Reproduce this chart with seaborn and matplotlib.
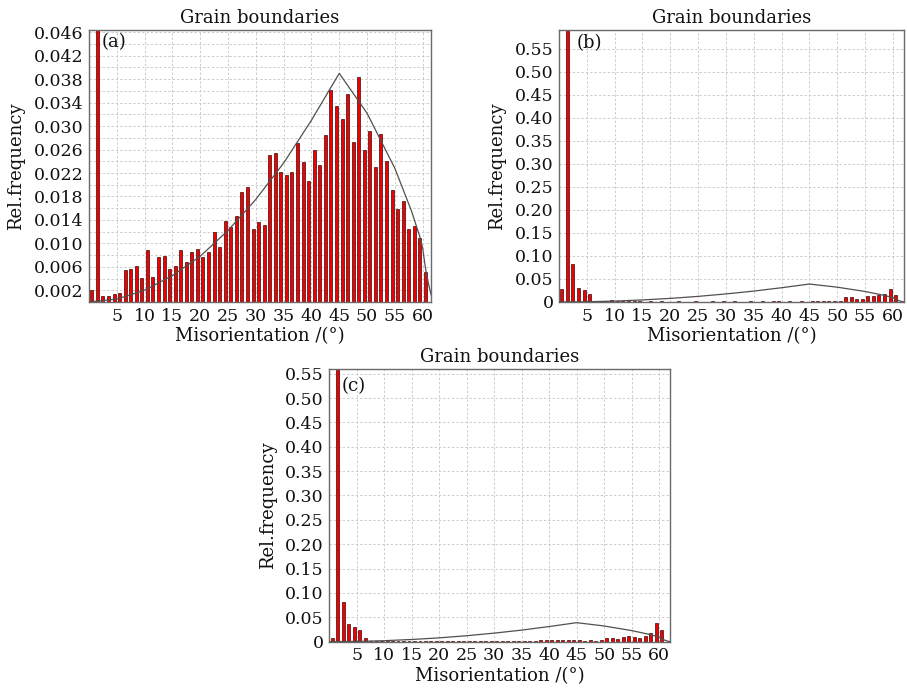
import numpy as np
import pandas as pd
import matplotlib
matplotlib.use("Agg")
import matplotlib.pyplot as plt
import seaborn as sns

# ---------------- data ----------------
# bin centres (1 degree bins)
bins_a = [d + 0.5 for d in range(61)]
freq_a = [0.0021, 0.0900, 0.0011, 0.0010, 0.0014, 0.0015, 0.0055, 0.0056, 0.0061, 0.0041,
          0.0089, 0.0043, 0.0076, 0.0078, 0.0056, 0.0061, 0.0089, 0.0068, 0.0086, 0.0090,
          0.0076, 0.0086, 0.0120, 0.0093, 0.0139, 0.0128, 0.0146, 0.0187, 0.0196, 0.0124,
          0.0136, 0.0131, 0.0250, 0.0254, 0.0222, 0.0216, 0.0222, 0.0271, 0.0239, 0.0206,
          0.0260, 0.0233, 0.0285, 0.0361, 0.0335, 0.0312, 0.0355, 0.0273, 0.0383, 0.0260,
          0.0292, 0.0231, 0.0287, 0.0240, 0.0191, 0.0159, 0.0173, 0.0124, 0.0129, 0.0110,
          0.0051]

freq_b = [0.029, 0.620, 0.082, 0.031, 0.026, 0.017, 0.003, 0.002, 0.002, 0.005,
          0.002, 0.002, 0.003, 0.0015, 0.0015, 0.001, 0.0015, 0.001, 0.0015, 0.001,
          0.001, 0.0015, 0.001, 0.001, 0.0015, 0.001, 0.001, 0.0015, 0.001, 0.0015,
          0.001, 0.0015, 0.001, 0.001, 0.0015, 0.001, 0.0015, 0.001, 0.0015, 0.0015,
          0.001, 0.0015, 0.001, 0.0015, 0.001, 0.0015, 0.002, 0.002, 0.0015, 0.0015,
          0.002, 0.010, 0.010, 0.006, 0.007, 0.012, 0.013, 0.0145, 0.017, 0.0275,
          0.0145]

freq_c = [0.008, 0.600, 0.082, 0.037, 0.030, 0.023, 0.007, 0.0014, 0.001, 0.001,
          0.001, 0.0015, 0.002, 0.0015, 0.001, 0.002, 0.002, 0.0015, 0.002, 0.0015,
          0.001, 0.001, 0.0015, 0.001, 0.001, 0.0015, 0.001, 0.001, 0.0015, 0.001,
          0.001, 0.0015, 0.001, 0.0015, 0.0015, 0.002, 0.0015, 0.002, 0.0025, 0.003,
          0.0025, 0.003, 0.0025, 0.003, 0.0025, 0.003, 0.002, 0.0025, 0.002, 0.0025,
          0.007, 0.007, 0.005, 0.0096, 0.012, 0.009, 0.008, 0.012, 0.018, 0.038,
          0.023]

# Mackenzie reference curve
mk_x = [0, 5, 10, 15, 20, 25, 30, 35, 40, 45, 50, 55, 58, 59.5, 60, 60.5, 61, 61.5, 62]
mk_y = [0.0, 0.0005, 0.002, 0.0045, 0.0078, 0.0122, 0.0175, 0.0237, 0.031, 0.0390,
        0.0322, 0.0228, 0.0155, 0.0111, 0.0092, 0.0058, 0.0033, 0.0013, 0.0]

x_ticks = [5, 10, 15, 20, 25, 30, 35, 40, 45, 50, 55, 60]
yt_a_major = [0.002, 0.006, 0.010, 0.014, 0.018, 0.022, 0.026, 0.030, 0.034, 0.038, 0.042, 0.046]
yt_a_labels = ["0.002", "0.006", "0.010", "0.014", "0.018", "0.022", "0.026", "0.030",
               "0.034", "0.038", "0.042", "0.046"]
yt_a_minor = [0.004, 0.008, 0.012, 0.016, 0.020, 0.024, 0.028, 0.032, 0.036, 0.040, 0.044]
yt_bc = [0, 0.05, 0.10, 0.15, 0.20, 0.25, 0.30, 0.35, 0.40, 0.45, 0.50, 0.55]
yt_bc_labels = ["0", "0.05", "0.10", "0.15", "0.20", "0.25", "0.30", "0.35", "0.40",
                "0.45", "0.50", "0.55"]

title = "Grain boundaries"
xlabel = "Misorientation /(°)"
ylabel = "Rel.frequency"

# ---------------- style ----------------
sns.set_theme(style="white")
plt.rcParams["font.family"] = ["DejaVu Serif"]
plt.rcParams["mathtext.fontset"] = "dejavuserif"

RED = "#f00000"
EDGE = "#3a0808"
GRID = "#cccccc"
TXT = "#111111"

fig = plt.figure(figsize=(9.07, 6.89), dpi=100)
ax_a = fig.add_axes([0.0981, 0.5617, 0.3771, 0.3948])
ax_b = fig.add_axes([0.6163, 0.5617, 0.3804, 0.3948])
ax_c = fig.add_axes([0.3631, 0.0687, 0.3756, 0.3953])

edges = [float(e) for e in range(62)]
mk_df = pd.DataFrame({"x": mk_x, "y": mk_y})


def draw(ax, vals, xmax, ymax, letter, lx, ly):
    df = pd.DataFrame({"angle": bins_a, "freq": vals})
    sns.histplot(data=df, x="angle", weights="freq", bins=edges, shrink=0.54,
                 color=RED, edgecolor=EDGE, linewidth=0.5, alpha=1.0, ax=ax,
                 zorder=2)
    sns.lineplot(data=mk_df, x="x", y="y", ax=ax, color="#505050",
                 linewidth=0.9, zorder=3)
    ax.set_xlim(0, xmax)
    ax.set_ylim(0, ymax)
    ax.set_xticks(x_ticks)
    ax.set_xticklabels([str(t) for t in x_ticks])
    ax.set_axisbelow(True)
    ax.grid(True, which="both", linestyle=(0, (2.5, 2)), color=GRID, linewidth=0.7)
    ax.tick_params(axis="both", which="both", length=0, labelsize=12.5,
                   colors=TXT, pad=4)
    for s in ax.spines.values():
        s.set_visible(True)
        s.set_color("#6a6a6a")
        s.set_linewidth(1.0)
    ax.set_title(title, fontsize=13, pad=5, color=TXT)
    ax.set_xlabel(xlabel, fontsize=13, labelpad=2, color=TXT)
    ax.set_ylabel(ylabel, fontsize=13, labelpad=6, color=TXT)
    ax.text(lx, ly, letter, transform=ax.transAxes, ha="left", va="center",
            fontsize=13, color=TXT)


draw(ax_a, freq_a, 61.5, 0.0464, "(a)", 0.038, 0.956)
ax_a.set_yticks(yt_a_major)
ax_a.set_yticklabels(yt_a_labels)
ax_a.set_yticks(yt_a_minor, minor=True)

draw(ax_b, freq_b, 62, 0.591, "(b)", 0.051, 0.951)
ax_b.set_yticks(yt_bc)
ax_b.set_yticklabels(yt_bc_labels)

draw(ax_c, freq_c, 62, 0.559, "(c)", 0.036, 0.939)
ax_c.set_yticks(yt_bc)
ax_c.set_yticklabels(yt_bc_labels)

fig.savefig("out.png", dpi=100)
